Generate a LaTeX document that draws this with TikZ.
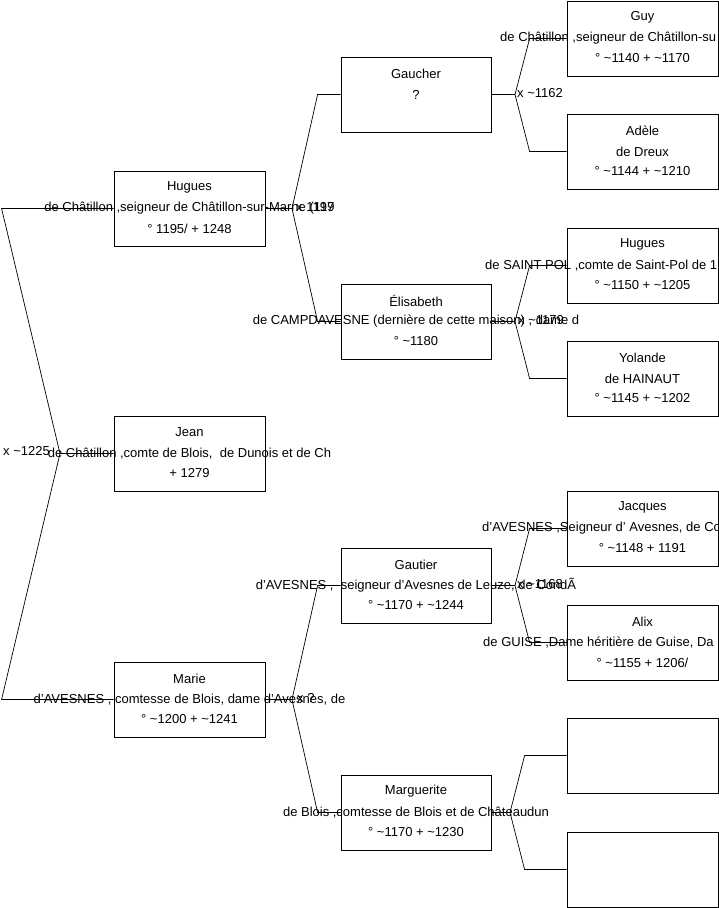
\documentclass[tikz,border=0pt]{standalone}
\usepackage{fontspec}
\setmainfont{Liberation Sans}
\begin{document}
\begin{tikzpicture}[x=1pt, y=-1pt,
  person/.style={draw, line width=0.8pt, minimum height=75pt, inner sep=0},
  txt/.style={inner sep=0, font=\fontsize{13}{15}\selectfont},
  link/.style={line width=0.7pt}]
  \clip (0,0) rectangle (719,908);
  % first column
  \node[person, minimum width=151pt] (hug)   at (189.5,208.5) {};
  \node[person, minimum width=151pt] (jean)  at (189.5,453.5) {};
  \node[person, minimum width=151pt] (marie) at (189.5,699.5) {};
  % second column
  \node[person, minimum width=150pt] (gauch) at (416,94.5)  {};
  \node[person, minimum width=150pt] (elis)  at (416,321.5) {};
  \node[person, minimum width=150pt] (gaut)  at (416,585.5) {};
  \node[person, minimum width=150pt] (marg)  at (416,812.5) {};
  % third column
  \node[person, minimum width=151pt] (guy)   at (642.5,38.5)  {};
  \node[person, minimum width=151pt] (adele) at (642.5,151.5) {};
  \node[person, minimum width=151pt] (hugsp) at (642.5,265.5) {};
  \node[person, minimum width=151pt] (yol)   at (642.5,378.5) {};
  \node[person, minimum width=151pt] (jacq)  at (642.5,528.5) {};
  \node[person, minimum width=151pt] (alix)  at (642.5,642.5) {};
  \node[person, minimum width=151pt] (ea)    at (642.5,755.5) {};
  \node[person, minimum width=151pt] (eb)    at (642.5,869.5) {};

  % texts
  \node[txt] at ([yshift=21pt]hug.center) {Hugues};
  \node[txt] at (hug.center) {de Châtillon ,seigneur de Châtillon-sur-Marne (119};
  \node[txt] at ([yshift=-20pt]hug.center) {° 1195/ + 1248};
  \node[txt] at ([yshift=21pt]jean.center) {Jean};
  \node[txt] at (jean.center) {de Châtillon ,comte de Blois,~ de Dunois et de Ch};
  \node[txt] at ([yshift=-20pt]jean.center) {+ 1279};
  \node[txt] at ([yshift=21pt]marie.center) {Marie};
  \node[txt] at (marie.center) {d'AVESNES , comtesse de Blois, dame d'Avesnes, de};
  \node[txt] at ([yshift=-20pt]marie.center) {° \textasciitilde1200 + \textasciitilde1241};

  \node[txt] at ([yshift=21pt]gauch.center) {Gaucher};
  \node[txt] at (gauch.center) {?};
  \node[txt] at ([yshift=21pt]elis.center) {Élisabeth};
  \node[txt] at (elis.center) {de CAMPDAVESNE (dernière de cette maison) , dame d};
  \node[txt] at ([yshift=-20pt]elis.center) {° \textasciitilde1180};
  \node[txt] at ([yshift=21pt]gaut.center) {Gautier};
  \node[txt] at (gaut.center) {d'AVESNES ,~ seigneur d'Avesnes de Leuze, de CondÃ};
  \node[txt] at ([yshift=-20pt]gaut.center) {° \textasciitilde1170 + \textasciitilde1244};
  \node[txt] at ([yshift=21pt]marg.center) {Marguerite};
  \node[txt] at (marg.center) {de Blois ,comtesse de Blois et de Châteaudun};
  \node[txt] at ([yshift=-20pt]marg.center) {° \textasciitilde1170 + \textasciitilde1230};

  \node[txt] at ([yshift=21pt]guy.center) {Guy};
  \node[txt, anchor=west] at (500,38.5) {de Châtillon ,seigneur de Châtillon-su};
  \node[txt] at ([yshift=-20pt]guy.center) {° \textasciitilde1140 + \textasciitilde1170};
  \node[txt] at ([yshift=21pt]adele.center) {Adèle};
  \node[txt] at (adele.center) {de Dreux};
  \node[txt] at ([yshift=-20pt]adele.center) {° \textasciitilde1144 + \textasciitilde1210};
  \node[txt] at ([yshift=21pt]hugsp.center) {Hugues};
  \node[txt, anchor=west] at (485,265.5) {de SAINT-POL ,comte de Saint-Pol de 1};
  \node[txt] at ([yshift=-20pt]hugsp.center) {° \textasciitilde1150 + \textasciitilde1205};
  \node[txt] at ([yshift=21pt]yol.center) {Yolande};
  \node[txt] at (yol.center) {de HAINAUT};
  \node[txt] at ([yshift=-20pt]yol.center) {° \textasciitilde1145 + \textasciitilde1202};
  \node[txt] at ([yshift=21pt]jacq.center) {Jacques};
  \node[txt, anchor=west] at (482,528.5) {d'AVESNES ,Seigneur d' Avesnes, de Co};
  \node[txt] at ([yshift=-20pt]jacq.center) {° \textasciitilde1148 + 1191};
  \node[txt] at ([yshift=21pt]alix.center) {Alix};
  \node[txt, anchor=west] at (483,642.5) {de GUISE ,Dame héritière de Guise, Da};
  \node[txt] at ([yshift=-20pt]alix.center) {° \textasciitilde1155 + 1206/};

  % unions
  \coordinate (u0) at (60,453.5);
  \coordinate (u1) at (292,208.5);
  \coordinate (u2) at (292,699.5);
  \coordinate (u3) at (515,94.5);
  \coordinate (u4) at (515,321.5);
  \coordinate (u5) at (515,585.5);
  \coordinate (u6) at (510,812.5);

  \draw[link] (jean.west) -- (u0) -- ([xshift=-112pt]hug.west) -- (hug.west);
  \draw[link] (u0) -- ([xshift=-112pt]marie.west) -- (marie.west);
  \draw[link] (hug.east) -- (u1) -- ([xshift=-23pt]gauch.west) -- (gauch.west);
  \draw[link] (u1) -- ([xshift=-23pt]elis.west) -- (elis.west);
  \draw[link] (marie.east) -- (u2) -- ([xshift=-23pt]gaut.west) -- (gaut.west);
  \draw[link] (u2) -- ([xshift=-23pt]marg.west) -- (marg.west);
  \draw[link] (gauch.east) -- (u3) -- ([xshift=-37pt]guy.west) -- (guy.west);
  \draw[link] (u3) -- ([xshift=-37pt]adele.west) -- (adele.west);
  \draw[link] (elis.east) -- (u4) -- ([xshift=-37pt]hugsp.west) -- (hugsp.west);
  \draw[link] (u4) -- ([xshift=-37pt]yol.west) -- (yol.west);
  \draw[link] (gaut.east) -- (u5) -- ([xshift=-37pt]jacq.west) -- (jacq.west);
  \draw[link] (u5) -- ([xshift=-37pt]alix.west) -- (alix.west);
  \draw[link] (marg.east) -- (u6) -- ([xshift=-42pt]ea.west) -- (ea.west);
  \draw[link] (u6) -- ([xshift=-42pt]eb.west) -- (eb.west);

  % marriage dates
  \node[txt, anchor=west] (w0) at (3,451) {x \textasciitilde1225};
  \node[txt, anchor=west] (w1) at (296,207) {x 1197};
  \node[txt, anchor=west] (w2) at (297,698) {x ?};
  \node[txt, anchor=west] (w3) at (517,93) {x \textasciitilde1162};
  \node[txt, anchor=west] (w4) at (518,320) {x \textasciitilde1179};
  \node[txt, anchor=west] (w5) at (517,584) {x \textasciitilde1168};
\end{tikzpicture}
\end{document}
